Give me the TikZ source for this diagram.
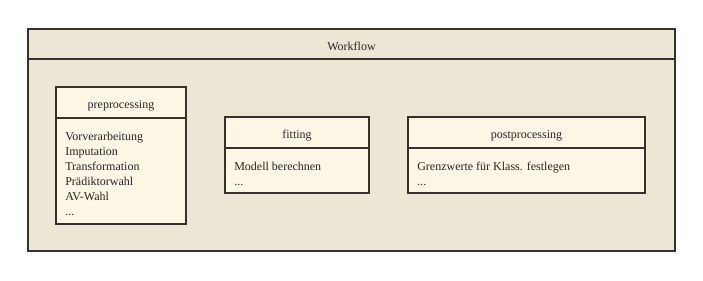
\documentclass[tikz,border=0pt]{standalone}
\usepackage{fontspec}
\setmainfont{Liberation Serif}
\definecolor{outerfill}{RGB}{237,230,213}
\definecolor{innerfill}{RGB}{253,246,228}
\definecolor{edge}{RGB}{52,50,46}
\begin{document}
\begin{tikzpicture}[x=0.75pt,y=-0.75pt,
  box/.style={draw=edge,line width=2pt},
  lbl/.style={font=\fontsize{9}{11}\selectfont,text=black!85,inner sep=0pt},
  item/.style={lbl,anchor=base west}]
\useasboundingbox (0,0) rectangle (703,280);
\fill[white] (0,0) rectangle (703,280);
% outer
\draw[box,fill=outerfill] (28,29) rectangle (675,251);
\draw[box] (28,59) -- (675,59);
\node[lbl,anchor=base] (wf) at (351.5,50.3) {Workflow};
% preprocessing
\draw[box,fill=innerfill] (56,87) rectangle (186,224);
\draw[box] (56,118) -- (186,118);
\node[lbl,anchor=base] (pre) at (121,108.5) {preprocessing};
\node[item] (p1) at (65,140) {Vorverarbeitung};
\node[item] (p2) at (65,155) {Imputation};
\node[item] (p3) at (65,170) {Transformation};
\node[item] (p4) at (65,185) {Prädiktorwahl};
\node[item] (p5) at (65,200) {AV-Wahl};
\node[item] (p6) at (65,215) {...};
% fitting
\draw[box,fill=innerfill] (225,117) rectangle (369,193);
\draw[box] (225,148) -- (369,148);
\node[lbl,anchor=base] (fit) at (297,138.5) {fitting};
\node[item] (f1) at (234,170) {Modell berechnen};
\node[item] (f2) at (234,185) {...};
% postprocessing
\draw[box,fill=innerfill] (408,117) rectangle (645,193);
\draw[box] (408,148) -- (645,148);
\node[lbl,anchor=base] (post) at (526.5,138.5) {postprocessing};
\node[item] (q1) at (417,170) {Grenzwerte für Klass. festlegen};
\node[item] (q2) at (417,185) {...};
\end{tikzpicture}
\end{document}
